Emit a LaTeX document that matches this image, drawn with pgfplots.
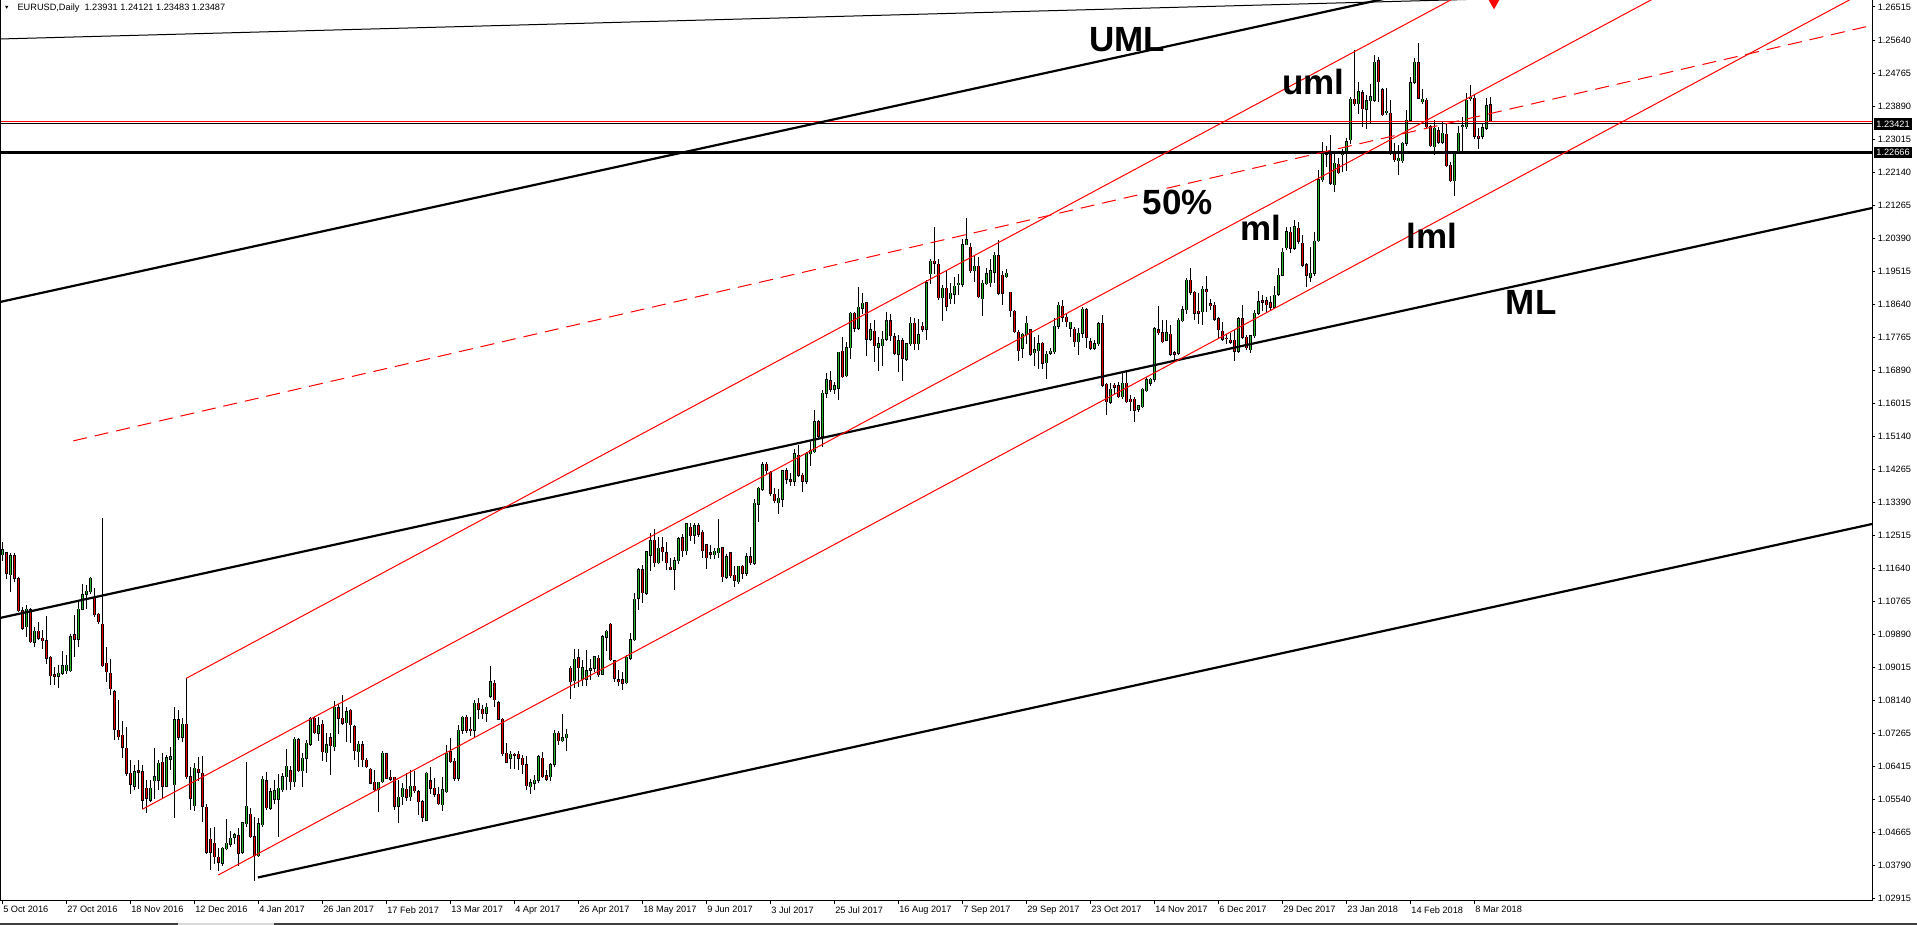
\documentclass[border=0pt]{standalone}
\usepackage{pgfplots}
\pgfplotsset{compat=1.18}
\usepackage{pgfplotstable}
\usepackage{fontspec}
\setmainfont{Liberation Sans}
\definecolor{bull}{RGB}{35,185,35}
\definecolor{bear}{RGB}{235,0,0}
\definecolor{lnred}{RGB}{255,0,0}
\pgfplotstableread{
k o h l c
0 1.1202 1.1237 1.1188 1.1215
1 1.1208 1.1210 1.1138 1.1153
2 1.1149 1.1206 1.1104 1.1199
3 1.1199 1.1206 1.1131 1.1140
4 1.1138 1.1142 1.1052 1.1054
5 1.1054 1.1065 1.1003 1.1007
6 1.1012 1.1069 1.0985 1.1058
7 1.1056 1.1060 1.0970 1.0972
8 1.0970 1.1012 1.0959 1.1000
9 1.1000 1.1025 1.0977 1.0981
10 1.0981 1.1003 1.0955 1.0975
11 1.0975 1.1040 1.0915 1.0928
12 1.0931 1.0933 1.0858 1.0882
13 1.0884 1.0906 1.0860 1.0880
14 1.0880 1.0910 1.0850 1.0888
15 1.0888 1.0947 1.0884 1.0908
16 1.0895 1.0937 1.0888 1.0910
17 1.0895 1.0992 1.0893 1.0985
18 1.0990 1.1043 1.0934 1.0978
19 1.0978 1.1078 1.0959 1.1058
20 1.1058 1.1125 1.1056 1.1096
21 1.1097 1.1122 1.1060 1.1106
22 1.1104 1.1142 1.1100 1.1140
23 1.1087 1.1113 1.1038 1.1043
24 1.1044 1.1049 1.1019 1.1025
25 1.1018 1.1299 1.0906 1.0909
26 1.0915 1.0959 1.0866 1.0893
27 1.0888 1.0925 1.0831 1.0847
28 1.0840 1.0843 1.0712 1.0740
29 1.0738 1.0818 1.0714 1.0721
30 1.0725 1.0761 1.0666 1.0693
31 1.0690 1.0747 1.0619 1.0624
32 1.0624 1.0659 1.0571 1.0595
33 1.0589 1.0646 1.0580 1.0628
34 1.0630 1.0659 1.0584 1.0626
35 1.0628 1.0646 1.0531 1.0553
36 1.0584 1.0606 1.0520 1.0558
37 1.0553 1.0606 1.0549 1.0584
38 1.0604 1.0690 1.0558 1.0615
39 1.0606 1.0659 1.0580 1.0650
40 1.0653 1.0677 1.0558 1.0590
41 1.0590 1.0672 1.0589 1.0665
42 1.0661 1.0694 1.0633 1.0668
43 1.0593 1.0800 1.0507 1.0765
44 1.0765 1.0790 1.0714 1.0719
45 1.0719 1.0769 1.0708 1.0754
46 1.0754 1.0875 1.0611 1.0615
47 1.0615 1.0641 1.0529 1.0558
48 1.0538 1.0650 1.0525 1.0637
49 1.0634 1.0668 1.0606 1.0626
50 1.0624 1.0670 1.0496 1.0536
51 1.0534 1.0543 1.0412 1.0415
52 1.0449 1.0478 1.0368 1.0415
53 1.0439 1.0481 1.0386 1.0403
54 1.0402 1.0425 1.0366 1.0388
55 1.0386 1.0430 1.0381 1.0425
56 1.0424 1.0502 1.0421 1.0439
57 1.0436 1.0471 1.0430 1.0452
58 1.0454 1.0465 1.0439 1.0461
59 1.0458 1.0480 1.0379 1.0412
60 1.0415 1.0496 1.0412 1.0493
61 1.0490 1.0653 1.0483 1.0537
62 1.0516 1.0531 1.0454 1.0456
63 1.0456 1.0509 1.0340 1.0406
64 1.0406 1.0505 1.0403 1.0490
65 1.0487 1.0617 1.0484 1.0608
66 1.0604 1.0626 1.0529 1.0533
67 1.0531 1.0584 1.0527 1.0575
68 1.0555 1.0606 1.0544 1.0578
69 1.0555 1.0622 1.0456 1.0584
70 1.0580 1.0624 1.0575 1.0615
71 1.0615 1.0687 1.0580 1.0643
72 1.0630 1.0643 1.0580 1.0602
73 1.0602 1.0721 1.0588 1.0714
74 1.0712 1.0716 1.0628 1.0631
75 1.0631 1.0677 1.0588 1.0663
76 1.0663 1.0712 1.0626 1.0703
77 1.0701 1.0774 1.0696 1.0769
78 1.0769 1.0775 1.0730 1.0731
79 1.0730 1.0772 1.0710 1.0749
80 1.0754 1.0765 1.0657 1.0681
81 1.0678 1.0730 1.0655 1.0699
82 1.0718 1.0730 1.0621 1.0696
83 1.0694 1.0816 1.0685 1.0798
84 1.0797 1.0807 1.0730 1.0769
85 1.0769 1.0831 1.0752 1.0756
86 1.0758 1.0798 1.0709 1.0787
87 1.0791 1.0793 1.0705 1.0752
88 1.0747 1.0752 1.0659 1.0684
89 1.0681 1.0709 1.0641 1.0701
90 1.0699 1.0709 1.0641 1.0659
91 1.0659 1.0665 1.0640 1.0641
92 1.0635 1.0637 1.0596 1.0597
93 1.0600 1.0633 1.0579 1.0580
94 1.0580 1.0602 1.0522 1.0600
95 1.0602 1.0683 1.0600 1.0677
96 1.0675 1.0678 1.0609 1.0611
97 1.0613 1.0633 1.0606 1.0608
98 1.0613 1.0615 1.0529 1.0536
99 1.0537 1.0606 1.0493 1.0560
100 1.0562 1.0599 1.0540 1.0584
101 1.0581 1.0624 1.0553 1.0560
102 1.0562 1.0633 1.0551 1.0590
103 1.0590 1.0631 1.0573 1.0578
104 1.0575 1.0580 1.0514 1.0549
105 1.0549 1.0553 1.0496 1.0507
106 1.0500 1.0628 1.0498 1.0624
107 1.0604 1.0641 1.0571 1.0584
108 1.0584 1.0611 1.0562 1.0568
109 1.0568 1.0588 1.0540 1.0543
110 1.0540 1.0615 1.0525 1.0580
111 1.0575 1.0699 1.0573 1.0677
112 1.0681 1.0716 1.0652 1.0655
113 1.0656 1.0663 1.0606 1.0611
114 1.0611 1.0752 1.0606 1.0738
115 1.0738 1.0775 1.0730 1.0772
116 1.0772 1.0778 1.0731 1.0738
117 1.0741 1.0774 1.0725 1.0737
118 1.0738 1.0818 1.0721 1.0809
119 1.0809 1.0822 1.0769 1.0793
120 1.0793 1.0805 1.0769 1.0781
121 1.0783 1.0809 1.0760 1.0798
122 1.0828 1.0908 1.0825 1.0866
123 1.0862 1.0871 1.0800 1.0818
124 1.0811 1.0816 1.0765 1.0767
125 1.0767 1.0769 1.0672 1.0675
126 1.0677 1.0705 1.0652 1.0653
127 1.0663 1.0684 1.0637 1.0674
128 1.0674 1.0678 1.0637 1.0672
129 1.0674 1.0684 1.0634 1.0663
130 1.0663 1.0672 1.0624 1.0646
131 1.0646 1.0670 1.0580 1.0591
132 1.0588 1.0608 1.0571 1.0599
133 1.0597 1.0619 1.0580 1.0606
134 1.0606 1.0672 1.0599 1.0668
135 1.0664 1.0681 1.0613 1.0615
136 1.0617 1.0633 1.0606 1.0608
137 1.0615 1.0650 1.0604 1.0646
138 1.0648 1.0738 1.0641 1.0730
139 1.0730 1.0737 1.0700 1.0710
140 1.0710 1.0781 1.0707 1.0718
141 1.0718 1.0741 1.0684 1.0727
142 1.0902 1.0908 1.0822 1.0866
143 1.0869 1.0952 1.0851 1.0925
144 1.0930 1.0952 1.0853 1.0903
145 1.0871 1.0924 1.0855 1.0903
146 1.0872 1.0950 1.0855 1.0895
147 1.0897 1.0925 1.0871 1.0900
148 1.0902 1.0934 1.0893 1.0932
149 1.0928 1.0937 1.0879 1.0884
150 1.0886 1.0990 1.0884 1.0985
151 1.0984 1.1003 1.0950 1.1000
152 1.1018 1.1021 1.0922 1.0924
153 1.0921 1.0924 1.0866 1.0875
154 1.0871 1.0897 1.0857 1.0866
155 1.0871 1.0893 1.0846 1.0862
156 1.0864 1.0937 1.0862 1.0931
157 1.0928 1.0994 1.0924 1.0977
158 1.0977 1.1100 1.0975 1.1085
159 1.1087 1.1166 1.1058 1.1162
160 1.1162 1.1175 1.1075 1.1102
161 1.1100 1.1212 1.1096 1.1210
162 1.1201 1.1259 1.1160 1.1239
163 1.1241 1.1269 1.1172 1.1181
164 1.1181 1.1250 1.1179 1.1219
165 1.1221 1.1250 1.1188 1.1210
166 1.1208 1.1237 1.1162 1.1181
167 1.1169 1.1193 1.1162 1.1164
168 1.1164 1.1197 1.1111 1.1186
169 1.1186 1.1250 1.1179 1.1244
170 1.1247 1.1256 1.1197 1.1213
171 1.1213 1.1287 1.1204 1.1284
172 1.1275 1.1285 1.1241 1.1252
173 1.1254 1.1285 1.1232 1.1279
174 1.1279 1.1285 1.1250 1.1256
175 1.1261 1.1268 1.1194 1.1212
176 1.1228 1.1231 1.1166 1.1194
177 1.1208 1.1228 1.1193 1.1204
178 1.1202 1.1219 1.1193 1.1212
179 1.1208 1.1297 1.1195 1.1219
180 1.1221 1.1223 1.1131 1.1144
181 1.1142 1.1203 1.1138 1.1197
182 1.1208 1.1210 1.1142 1.1146
183 1.1148 1.1172 1.1118 1.1134
184 1.1131 1.1172 1.1127 1.1171
185 1.1171 1.1175 1.1140 1.1153
186 1.1153 1.1208 1.1148 1.1197
187 1.1197 1.1223 1.1175 1.1181
188 1.1179 1.1349 1.1175 1.1338
189 1.1336 1.1382 1.1290 1.1378
190 1.1376 1.1448 1.1372 1.1440
191 1.1442 1.1448 1.1418 1.1425
192 1.1419 1.1425 1.1358 1.1365
193 1.1362 1.1378 1.1340 1.1345
194 1.1340 1.1375 1.1312 1.1351
195 1.1349 1.1426 1.1329 1.1424
196 1.1424 1.1431 1.1391 1.1402
197 1.1400 1.1418 1.1384 1.1397
198 1.1396 1.1481 1.1384 1.1469
199 1.1466 1.1492 1.1409 1.1413
200 1.1413 1.1418 1.1369 1.1396
201 1.1396 1.1475 1.1391 1.1471
202 1.1469 1.1501 1.1437 1.1479
203 1.1475 1.1585 1.1472 1.1554
204 1.1554 1.1559 1.1510 1.1515
205 1.1515 1.1638 1.1488 1.1629
206 1.1629 1.1682 1.1619 1.1665
207 1.1663 1.1687 1.1634 1.1640
208 1.1640 1.1660 1.1629 1.1649
209 1.1642 1.1739 1.1613 1.1738
210 1.1740 1.1779 1.1672 1.1673
211 1.1676 1.1766 1.1673 1.1750
212 1.1750 1.1845 1.1722 1.1841
213 1.1841 1.1845 1.1792 1.1801
214 1.1801 1.1910 1.1798 1.1857
215 1.1854 1.1894 1.1841 1.1867
216 1.1869 1.1872 1.1728 1.1772
217 1.1772 1.1816 1.1770 1.1797
218 1.1794 1.1822 1.1713 1.1755
219 1.1751 1.1779 1.1689 1.1760
220 1.1755 1.1795 1.1704 1.1772
221 1.1772 1.1845 1.1770 1.1821
222 1.1821 1.1839 1.1770 1.1781
223 1.1779 1.1788 1.1731 1.1735
224 1.1733 1.1784 1.1687 1.1768
225 1.1768 1.1775 1.1663 1.1722
226 1.1719 1.1763 1.1717 1.1760
227 1.1760 1.1830 1.1757 1.1815
228 1.1815 1.1828 1.1744 1.1760
229 1.1760 1.1826 1.1744 1.1784
230 1.1807 1.1819 1.1792 1.1799
231 1.1799 1.1929 1.1772 1.1922
232 1.1945 1.1984 1.1919 1.1979
233 1.1979 1.2070 1.1945 1.1973
234 1.1971 1.1984 1.1878 1.1882
235 1.1882 1.1916 1.1822 1.1907
236 1.1907 1.1954 1.1848 1.1860
237 1.1879 1.1920 1.1867 1.1894
238 1.1891 1.1938 1.1867 1.1913
239 1.1916 1.1945 1.1892 1.1920
240 1.1918 1.2037 1.1911 1.2022
241 1.2023 1.2092 1.2022 1.2035
242 1.2016 1.2028 1.1948 1.1953
243 1.1953 1.1993 1.1925 1.1966
244 1.1966 1.1991 1.1883 1.1885
245 1.1880 1.1929 1.1836 1.1920
246 1.1919 1.1960 1.1916 1.1945
247 1.1922 1.1984 1.1913 1.1953
248 1.1949 1.2004 1.1922 1.1995
249 1.1993 1.2035 1.1892 1.1894
250 1.1942 1.1954 1.1863 1.1894
251 1.1938 1.1957 1.1936 1.1947
252 1.1896 1.1898 1.1832 1.1848
253 1.1847 1.1850 1.1791 1.1792
254 1.1791 1.1797 1.1717 1.1742
255 1.1748 1.1790 1.1724 1.1785
256 1.1784 1.1834 1.1762 1.1815
257 1.1797 1.1799 1.1729 1.1732
258 1.1737 1.1779 1.1704 1.1744
259 1.1742 1.1784 1.1695 1.1760
260 1.1762 1.1766 1.1695 1.1709
261 1.1710 1.1740 1.1669 1.1733
262 1.1735 1.1748 1.1733 1.1741
263 1.1739 1.1828 1.1735 1.1807
264 1.1807 1.1872 1.1801 1.1862
265 1.1860 1.1876 1.1819 1.1830
266 1.1830 1.1841 1.1806 1.1819
267 1.1801 1.1819 1.1779 1.1817
268 1.1799 1.1806 1.1753 1.1766
269 1.1766 1.1801 1.1731 1.1788
270 1.1788 1.1857 1.1777 1.1852
271 1.1850 1.1854 1.1751 1.1777
272 1.1766 1.1775 1.1746 1.1748
273 1.1748 1.1770 1.1744 1.1760
274 1.1760 1.1819 1.1757 1.1813
275 1.1813 1.1836 1.1647 1.1651
276 1.1653 1.1657 1.1574 1.1607
277 1.1605 1.1657 1.1603 1.1640
278 1.1651 1.1656 1.1629 1.1645
279 1.1649 1.1660 1.1619 1.1620
280 1.1620 1.1687 1.1616 1.1656
281 1.1656 1.1687 1.1605 1.1607
282 1.1614 1.1625 1.1583 1.1607
283 1.1614 1.1620 1.1554 1.1585
284 1.1587 1.1598 1.1581 1.1596
285 1.1594 1.1642 1.1592 1.1640
286 1.1636 1.1673 1.1634 1.1665
287 1.1656 1.1669 1.1651 1.1666
288 1.1666 1.1804 1.1660 1.1800
289 1.1797 1.1860 1.1784 1.1790
290 1.1790 1.1823 1.1763 1.1766
291 1.1770 1.1823 1.1769 1.1790
292 1.1786 1.1810 1.1728 1.1732
293 1.1737 1.1740 1.1713 1.1732
294 1.1735 1.1828 1.1733 1.1823
295 1.1821 1.1859 1.1819 1.1850
296 1.1850 1.1934 1.1841 1.1929
297 1.1929 1.1960 1.1892 1.1897
298 1.1897 1.1901 1.1825 1.1841
299 1.1847 1.1894 1.1815 1.1841
300 1.1845 1.1913 1.1810 1.1905
301 1.1903 1.1940 1.1845 1.1898
302 1.1866 1.1879 1.1850 1.1861
303 1.1862 1.1872 1.1823 1.1825
304 1.1826 1.1832 1.1777 1.1797
305 1.1794 1.1819 1.1769 1.1772
306 1.1775 1.1786 1.1760 1.1773
307 1.1770 1.1790 1.1762 1.1764
308 1.1770 1.1797 1.1716 1.1741
309 1.1741 1.1832 1.1737 1.1826
310 1.1826 1.1863 1.1775 1.1777
311 1.1777 1.1784 1.1744 1.1750
312 1.1744 1.1784 1.1737 1.1781
313 1.1781 1.1850 1.1777 1.1841
314 1.1841 1.1901 1.1839 1.1872
315 1.1874 1.1889 1.1848 1.1870
316 1.1874 1.1885 1.1845 1.1863
317 1.1869 1.1887 1.1851 1.1857
318 1.1857 1.1912 1.1854 1.1889
319 1.1892 1.1960 1.1889 1.1942
320 1.1942 1.2013 1.1940 1.2002
321 1.2015 1.2070 1.2009 1.2057
322 1.2055 1.2070 1.2001 1.2013
323 1.2013 1.2088 1.2009 1.2070
324 1.2066 1.2083 1.2026 1.2031
325 1.2026 1.2048 1.1964 1.1968
326 1.1969 1.1973 1.1912 1.1942
327 1.1936 1.2017 1.1925 1.1947
328 1.1947 1.2057 1.1942 1.2032
329 1.2033 1.2220 1.2031 1.2194
330 1.2194 1.2295 1.2189 1.2264
331 1.2262 1.2284 1.2229 1.2266
332 1.2260 1.2313 1.2181 1.2185
333 1.2181 1.2264 1.2163 1.2238
334 1.2235 1.2251 1.2211 1.2213
335 1.2260 1.2277 1.2216 1.2266
336 1.2263 1.2304 1.2220 1.2295
337 1.2300 1.2414 1.2289 1.2407
338 1.2408 1.2538 1.2392 1.2395
339 1.2395 1.2454 1.2370 1.2427
340 1.2425 1.2432 1.2335 1.2382
341 1.2381 1.2419 1.2331 1.2403
342 1.2403 1.2449 1.2344 1.2414
343 1.2405 1.2524 1.2401 1.2505
344 1.2509 1.2520 1.2401 1.2454
345 1.2432 1.2436 1.2363 1.2366
346 1.2372 1.2436 1.2366 1.2376
347 1.2370 1.2405 1.2262 1.2264
348 1.2262 1.2291 1.2242 1.2247
349 1.2244 1.2286 1.2207 1.2251
350 1.2245 1.2295 1.2240 1.2291
351 1.2291 1.2379 1.2286 1.2352
352 1.2352 1.2467 1.2351 1.2451
353 1.2452 1.2516 1.2449 1.2505
354 1.2504 1.2557 1.2408 1.2410
355 1.2401 1.2434 1.2397 1.2408
356 1.2405 1.2410 1.2333 1.2335
357 1.2335 1.2339 1.2282 1.2284
358 1.2282 1.2352 1.2260 1.2331
359 1.2324 1.2335 1.2289 1.2293
360 1.2293 1.2351 1.2291 1.2317
361 1.2315 1.2344 1.2229 1.2231
362 1.2233 1.2240 1.2189 1.2192
363 1.2192 1.2269 1.2152 1.2266
364 1.2266 1.2337 1.2264 1.2317
365 1.2335 1.2361 1.2273 1.2337
366 1.2335 1.2423 1.2331 1.2405
367 1.2408 1.2445 1.2405 1.2412
368 1.2410 1.2419 1.2304 1.2310
369 1.2310 1.2331 1.2277 1.2304
370 1.2309 1.2342 1.2304 1.2332
371 1.2331 1.2410 1.2328 1.2390
372 1.23931 1.24121 1.23483 1.23487
}\candles
\pgfplotsset{
  comb/.style={ycomb, no markers, forget plot, line cap=butt},
}
\begin{document}
\begin{tikzpicture}
\begin{axis}[
  at={(0pt,12pt)}, anchor=south west,
  scale only axis, width=936pt, height=450.5pt,
  xmin=-0.575, xmax=467.4, ymin=1.02859, ymax=1.26700,
  axis on top,
  axis line style={line width=0.5pt},
  tick align=outside, major tick length=1.7pt,
  tick style={black, line width=0.5pt},
  xtick pos=bottom, ytick pos=right, yticklabel pos=right,
  scaled y ticks=false, scaled x ticks=false,
  tick label style={font=\fontsize{4.6pt}{5.5pt}\selectfont},
  xtick={0,16,...,368},
  xticklabels={5 Oct 2016, 27 Oct 2016, 18 Nov 2016, 12 Dec 2016, 4 Jan 2017, 26 Jan 2017, 17 Feb 2017, 13 Mar 2017, 4 Apr 2017, 26 Apr 2017, 18 May 2017, 9 Jun 2017, 3 Jul 2017, 25 Jul 2017, 16 Aug 2017, 7 Sep 2017, 29 Sep 2017, 23 Oct 2017, 14 Nov 2017, 6 Dec 2017, 29 Dec 2017, 23 Jan 2018, 14 Feb 2018, 8 Mar 2018},
  xticklabel style={anchor=north west, inner sep=0pt, xshift=0.3pt, yshift=-0.8pt},
  ytick={1.02917,1.03791,1.04665,1.05539,1.06413,1.07287,1.08161,1.09035,1.09909,1.10783,1.11657,1.12531,1.13405,1.14279,1.15153,1.16027,1.16901,1.17775,1.18649,1.19523,1.20397,1.21271,1.22145,1.23019,1.23893,1.24767,1.25641,1.26515},
  yticklabels={1.02915,1.03790,1.04665,1.05540,1.06415,1.07265,1.08140,1.09015,1.09890,1.10765,1.11640,1.12515,1.13390,1.14265,1.15140,1.16015,1.16890,1.17765,1.18640,1.19515,1.20390,1.21265,1.22140,1.23015,1.23890,1.24765,1.25640,1.26515},
  yticklabel style={anchor=west, inner sep=0pt, xshift=1pt},
]
% upper wick (the body covers its lower part)
\addplot[comb, black, line width=0.5pt] table[x=k, y=h] {\candles};
% body outline up to one pixel above the body
\addplot[comb, black, line width=1.5pt] table[x=k, y expr={max(\thisrow{o},\thisrow{c})+0.00013}] {\candles};
% body colour: green up to the close, then red up to the open
\addplot[comb, bull, line width=0.75pt] table[x=k, y=c] {\candles};
\addplot[comb, bear, line width=0.75pt] table[x=k, y=o] {\candles};
% restore the black below the body, then clear everything under the body outline
\addplot[comb, black, line width=0.85pt] table[x=k, y expr={min(\thisrow{o},\thisrow{c})}] {\candles};
\addplot[comb, white, line width=1.8pt] table[x=k, y expr={min(\thisrow{o},\thisrow{c})-0.00013}] {\candles};
% lower wick down to the low
\addplot[comb, black, line width=0.5pt] table[x=k, y expr={min(\thisrow{o},\thisrow{c})-0.00013}] {\candles};
\addplot[comb, white, line width=0.8pt] table[x=k, y expr={\thisrow{l}-0.00013}] {\candles};

% horizontal levels
\addplot[black, line width=1.85pt] coordinates {(-2,1.22666) (470,1.22666)};
\addplot[black, line width=0.5pt] coordinates {(-2,1.23421) (470,1.23421)};
\addplot[lnred, line width=0.5pt] coordinates {(-2,1.23487) (470,1.23487)};

% pitchfork (black)
\addplot[black, line width=0.5pt] coordinates {(-0.575,1.25668) (467.4,1.27002)};
\addplot[black, line width=1.1pt] coordinates {(-0.575,1.18709) (467.4,1.29557)};
\addplot[black, line width=1.1pt] coordinates {(-0.575,1.10348) (467.4,1.21196)};
\addplot[black, line width=1.1pt] coordinates {(63.9,1.03481) (467.4,1.12834)};

% red channel
\addplot[lnred, line width=0.5pt] coordinates {(46,1.08752) (366.75,1.26965)};
\addplot[lnred, line width=0.5pt] coordinates {(35,1.05286) (416.8,1.26965)};
\addplot[lnred, line width=0.5pt] coordinates {(54,1.03547) (466.4,1.26965)};
\addplot[lnred, line width=0.5pt, dash pattern=on 7pt off 4pt] coordinates {(17.75,1.15034) (466.4,1.26004)};

% arrow marker at the top
\addplot[only marks, mark=triangle*, mark size=3pt, mark options={rotate=180, fill=lnred, draw=lnred}] coordinates {(372.9,1.26634)};

% labels
\begin{scope}[every node/.style={font=\fontsize{17.5pt}{20pt}\selectfont\bfseries, inner sep=0pt}]
\node at (axis cs:281.2,1.25642) {UML};
\node at (axis cs:327.7,1.24530) {uml};
\node at (axis cs:293.9,1.21355) {50\%};
\node at (axis cs:314.7,1.20667) {ml};
\node at (axis cs:357.4,1.20455) {lml};
\node at (axis cs:382.2,1.18709) {ML};
\end{scope}
\coordinate (b1) at (axis cs:467.4,1.23421);
\coordinate (b2) at (axis cs:467.4,1.22666);
\end{axis}
\node[anchor=west, fill=black, text=white, inner xsep=1pt, inner ysep=0pt, minimum height=6.3pt,
  font=\fontsize{4.6pt}{5.5pt}\selectfont] at ([xshift=1pt]b1) {1.23421};
\node[anchor=west, fill=black, text=white, inner xsep=1pt, inner ysep=0pt, minimum height=5.6pt,
  font=\fontsize{4.6pt}{5.5pt}\selectfont] at ([xshift=1pt]b2) {1.22666};
% title
\fill[black] (2.5pt,459.6pt) -- (4.2pt,459.6pt) -- (3.35pt,458.1pt) -- cycle;
\node[anchor=west, inner sep=0pt, font=\fontsize{4.6pt}{5.5pt}\selectfont] at (8.6pt,458.6pt)
  {EURUSD,Daily\ \ 1.23931 1.24121 1.23483 1.23487};
% window bottom edge
\draw[black!75, line width=1pt] (0,0.6pt) -- (958.5pt,0.6pt);
\draw[black!15, line width=1pt] (89pt,0.6pt) -- (137pt,0.6pt);
\pgfresetboundingbox
\useasboundingbox (0,0) rectangle (958.5pt,462.5pt);
\end{tikzpicture}
\end{document}
